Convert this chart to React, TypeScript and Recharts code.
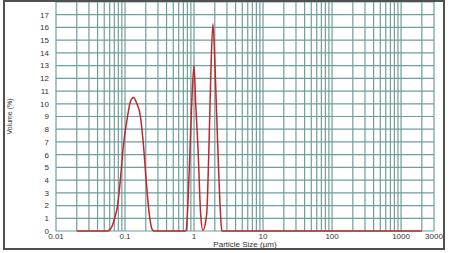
import React from "react";
import {
  LineChart,
  Line,
  XAxis,
  YAxis,
  CartesianGrid,
} from "recharts";

// particle size (µm) and volume (%)
const sizes = [
  0.02, 0.056, 0.064, 0.0706, 0.078, 0.0862, 0.0951, 0.1087, 0.12, 0.1326,
  0.1465, 0.1673, 0.1847, 0.2039, 0.218, 0.229, 0.2488, 0.2656,
  0.767, 0.801, 0.876, 0.926, 1.0, 1.057, 1.142, 1.248, 1.346,
  1.523, 1.643, 1.739, 1.876, 2.051, 2.213, 2.421, 2.528, 2000,
];
const volumes = [
  0, 0, 0.3, 1, 2, 4.2, 6.8, 9, 10.2, 10.5,
  10.1, 9, 6.8, 3.8, 2, 1, 0.1, 0,
  0, 1.3, 6.5, 10, 13, 10, 6.5, 1.3, 0.05,
  1.3, 6.5, 11.7, 16.3, 11.7, 6.5, 1.3, 0, 0,
];

const decades = [0.01, 0.1, 1, 10, 100, 1000];
const steps = [1, 2, 3, 4, 5, 6, 7, 8, 9];
const gridTicks = [...decades.flatMap((d) => steps.map((k) => +(d * k).toPrecision(3))).filter((v) => v <= 2000), 3000];
const xLabels = [0.01, 0.1, 1, 10, 100, 1000, 3000];
const yTicks = [0, 1, 2, 3, 4, 5, 6, 7, 8, 9, 10, 11, 12, 13, 14, 15, 16, 17, 18];

const data = sizes.map((s, i) => ({ size: s, volume: volumes[i] }));

const tickStyle = { fontSize: 8, fill: "#333", fontFamily: "Liberation Sans, Arial, sans-serif" };

export default function App() {
  return (
    <div style={{ position: "absolute", left: 0, top: 0, width: 450, height: 253, background: "#fff" }}>
      <LineChart width={450} height={253} data={data} margin={{ top: 2, right: 16, left: 0, bottom: 0 }}>
        <CartesianGrid stroke="#6f9e9b" strokeWidth={1.2} />
        <XAxis
          dataKey="size"
          type="number"
          scale="log"
          domain={[0.01, 3000]}
          allowDataOverflow
          ticks={gridTicks}
          interval={0}
          tickFormatter={(v: number) => (xLabels.includes(v) ? String(v) : "")}
          tick={tickStyle}
          tickLine={false}
          axisLine={false}
          tickSize={1}
          tickMargin={1}
          height={22}
          label={{
            value: "Particle Size (µm)",
            position: "insideBottom",
            offset: 6,
            style: { fontSize: 8, fill: "#333", fontFamily: "Liberation Sans, Arial, sans-serif" },
          }}
        />
        <YAxis
          type="number"
          domain={[0, 18]}
          ticks={yTicks}
          interval={0}
          tickFormatter={(v: number) => (v === 18 ? "" : String(v))}
          tick={tickStyle}
          tickLine={false}
          axisLine={false}
          tickSize={4}
          tickMargin={3}
          width={56}
          label={{
            content: (p: any) => {
              const cy = p.viewBox.y + p.viewBox.height / 2;
              return (
                <text
                  x={10}
                  y={cy}
                  transform={`rotate(-90, 10, ${cy})`}
                  textAnchor="middle"
                  dominantBaseline="middle"
                  style={{ fontSize: 7, fill: "#333", fontFamily: "Liberation Sans, Arial, sans-serif" }}
                >
                  Volume (%)
                </text>
              );
            },
          }}
        />
        <Line
          dataKey="volume"
          type="monotone"
          stroke="#c0262d"
          strokeWidth={1.5}
          dot={false}
          isAnimationActive={false}
        />
      </LineChart>
      <div
        style={{
          position: "absolute",
          left: 3,
          top: 0,
          width: 438,
          height: 246,
          border: "2px solid #505050",
          pointerEvents: "none",
        }}
      />
    </div>
  );
}
